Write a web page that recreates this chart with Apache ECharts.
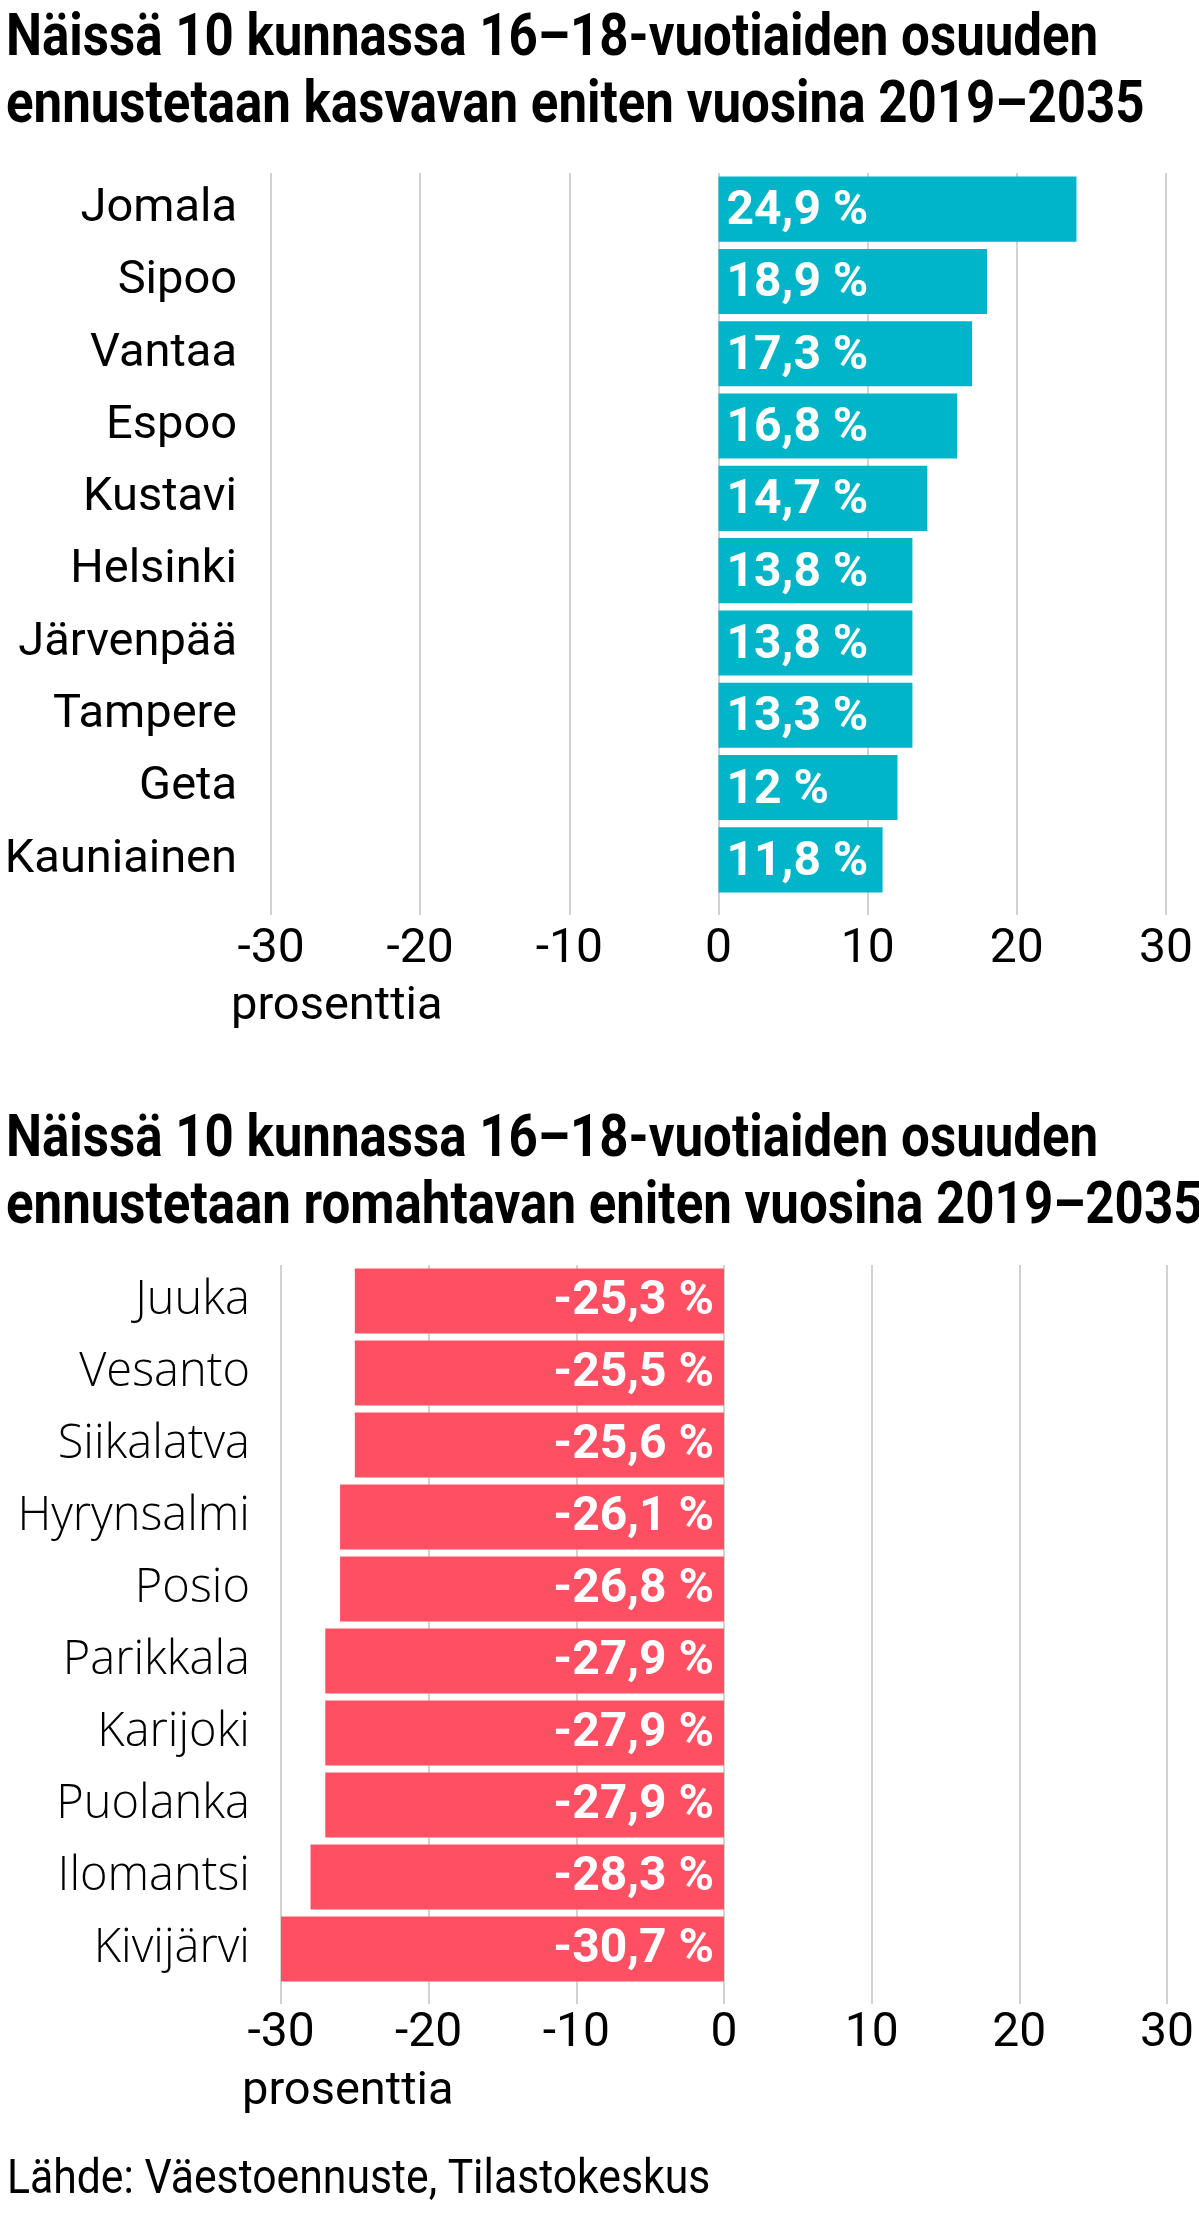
<!DOCTYPE html>
<html>
<head>
<meta charset="utf-8">
<script src="https://cdn.jsdelivr.net/npm/echarts@6/dist/echarts.min.js"></script>
<style>
  html, body { margin: 0; padding: 0; background: #fff; }
  #main { width: 1199px; height: 2218px; }
</style>
</head>
<body>
<div id="main"></div>
<script>
// kasvu (top chart)
var growthTowns = ['Jomala', 'Sipoo', 'Vantaa', 'Espoo', 'Kustavi', 'Helsinki', 'Järvenpää', 'Tampere', 'Geta', 'Kauniainen'];
var growthBars = [24, 18, 17, 16, 14, 13, 13, 13, 12, 11];
var growthLabels = [24.9, 18.9, 17.3, 16.8, 14.7, 13.8, 13.8, 13.3, 12, 11.8];

// romahdus (bottom chart)
var dropTowns = ['Juuka', 'Vesanto', 'Siikalatva', 'Hyrynsalmi', 'Posio', 'Parikkala', 'Karijoki', 'Puolanka', 'Ilomantsi', 'Kivijärvi'];
var dropBars = [-25, -25, -25, -26, -26, -27, -27, -27, -28, -30];
var dropLabels = [-25.3, -25.5, -25.6, -26.1, -26.8, -27.9, -27.9, -27.9, -28.3, -30.7];

var xTicks = [-30, -20, -10, 0, 10, 20, 30];

var chartDom = document.getElementById('main');
var myChart = echarts.init(chartDom);
var option;

var gridColor = '#d2d2d2';

function pct(v) {
  return String(v).replace('.', ',') + ' %';
}

function valueAxis(gridIndex, margin) {
  return {
    type: 'value',
    gridIndex: gridIndex,
    min: xTicks[0],
    max: xTicks[xTicks.length - 1],
    interval: 10,
    axisLine: { show: false },
    axisTick: { show: true, length: 19, lineStyle: { color: gridColor, width: 2 } },
    splitLine: { show: true, lineStyle: { color: gridColor, width: 2 } },
    axisLabel: {
      margin: margin,
      fontFamily: 'Roboto',
      fontSize: 48,
      color: '#000'
    }
  };
}

function catAxis(gridIndex, data, font, weight, margin, pad) {
  return {
    type: 'category',
    gridIndex: gridIndex,
    data: data,
    inverse: true,
    axisLine: { show: false },
    axisTick: { show: false },
    axisLabel: {
      margin: margin,
      fontFamily: font,
      fontWeight: weight,
      fontSize: 47,
      color: '#000',
      padding: [pad, 0, 0, 0]
    }
  };
}

function heading(y, text) {
  return {
    type: 'text', x: 6, y: y, scaleX: 0.865,
    style: {
      text: text,
      fontFamily: 'Roboto', fontWeight: 'bold', fontSize: 59, lineHeight: 67,
      verticalAlign: 'top', fill: '#000'
    }
  };
}

option = {
  animation: false,
  backgroundColor: '#fff',
  grid: [
    { left: 271, right: 33, top: 173, height: 723 },
    { left: 281, right: 32, top: 1265, height: 720 }
  ],
  xAxis: [valueAxis(0, 30), valueAxis(1, 25)],
  yAxis: [
    catAxis(0, growthTowns, 'Roboto', 'normal', 34, 8),
    catAxis(1, dropTowns, 'Open Sans', 300, 31, 2)
  ],
  series: [
    {
      type: 'bar',
      xAxisIndex: 0,
      yAxisIndex: 0,
      data: growthBars,
      barCategoryGap: '10%',
      itemStyle: { color: '#00b5c8' },
      label: {
        show: true,
        position: 'insideLeft',
        distance: 8,
        fontFamily: 'Roboto',
        fontWeight: 'bold',
        fontSize: 48,
        color: '#fff',
        offset: [0, 3],
        formatter: function (p) { return pct(growthLabels[p.dataIndex]); }
      }
    },
    {
      type: 'bar',
      xAxisIndex: 1,
      yAxisIndex: 1,
      data: dropBars,
      barCategoryGap: '10%',
      itemStyle: { color: '#ff5063' },
      label: {
        show: true,
        position: 'insideRight',
        distance: 10,
        fontFamily: 'Roboto',
        fontWeight: 'bold',
        fontSize: 48,
        color: '#fff',
        offset: [0, 1],
        formatter: function (p) { return pct(dropLabels[p.dataIndex]); }
      }
    }
  ],
  graphic: [
    heading(7, 'Näissä 10 kunnassa 16–18-vuotiaiden osuuden\nennustetaan kasvavan eniten vuosina 2019–2035'),
    heading(1108, 'Näissä 10 kunnassa 16–18-vuotiaiden osuuden\nennustetaan romahtavan eniten vuosina 2019–2035'),
    {
      type: 'text', x: 231, y: 984,
      style: { text: 'prosenttia', fontFamily: 'Roboto', fontSize: 47, verticalAlign: 'top', fill: '#000' }
    },
    {
      type: 'text', x: 242, y: 2069,
      style: { text: 'prosenttia', fontFamily: 'Roboto', fontSize: 47, verticalAlign: 'top', fill: '#000' }
    },
    {
      type: 'text', x: 7, y: 2157, scaleX: 0.89,
      style: { text: 'Lähde: Väestoennuste, Tilastokeskus', fontFamily: 'Roboto', fontSize: 48, verticalAlign: 'top', fill: '#000' }
    }
  ]
};

if (chartDom && myChart) {
  myChart.setOption(option);
} else {
  console.error('Failed to initialize the chart');
}
</script>
</body>
</html>
